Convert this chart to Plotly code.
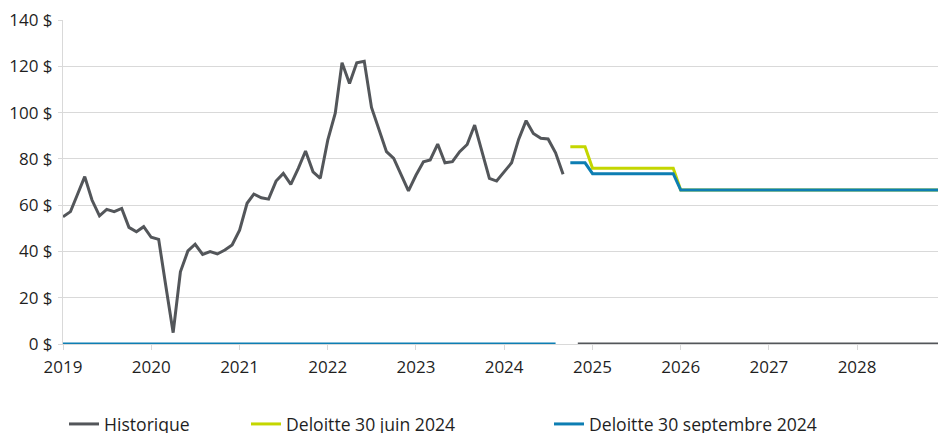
import pandas as pd
import plotly.graph_objects as go

# monthly axis, Jan 2019 -> Dec 2028
months = pd.date_range("2019-01-01", periods=120, freq="MS")

# Historique: Jan 2019 -> Sep 2024, blank Oct 2024, then zeros to Dec 2028
historique = [
    55.0, 57.2, 64.4, 72.3, 62.2, 55.4, 58.2, 57.2, 58.6, 50.4, 48.5, 50.7,
    46.1, 45.2, 25.5, 4.9, 31.2, 40.2, 43.1, 38.7, 39.9, 38.9, 40.6, 42.8,
    49.2, 60.8, 64.8, 63.2, 62.6, 70.4, 73.7, 69.0, 75.9, 83.4, 74.4, 71.6,
    88.1, 99.7, 121.5, 112.6, 121.5, 122.2, 102.2, 92.4, 83.1, 80.2, 73.0, 66.2,
    72.9, 78.7, 79.5, 86.4, 78.3, 78.8, 83.1, 86.2, 94.6, 83.1, 71.6, 70.4,
    74.4, 78.3, 88.4, 96.5, 91.0, 88.9, 88.6, 82.6, 73.4,
    None,
    0, 0, 0,
    0, 0, 0, 0, 0, 0, 0, 0, 0, 0, 0, 0,
    0, 0, 0, 0, 0, 0, 0, 0, 0, 0, 0, 0,
    0, 0, 0, 0, 0, 0, 0, 0, 0, 0, 0, 0,
    0, 0, 0, 0, 0, 0, 0, 0, 0, 0, 0, 0,
    0, 0,
]

# zeros over the history (Jan 2019 -> Aug 2024), blank Sep 2024
zeros_hist = [
    0, 0, 0, 0, 0, 0, 0, 0, 0, 0, 0, 0,
    0, 0, 0, 0, 0, 0, 0, 0, 0, 0, 0, 0,
    0, 0, 0, 0, 0, 0, 0, 0, 0, 0, 0, 0,
    0, 0, 0, 0, 0, 0, 0, 0, 0, 0, 0, 0,
    0, 0, 0, 0, 0, 0, 0, 0, 0, 0, 0, 0,
    0, 0, 0, 0, 0, 0, 0, 0,
    None,
]
blank_hist = [None] * 69

# forecasts Oct 2024 -> Dec 2028
prev_juin = [
    85.2, 85.2, 85.2,
    75.9, 75.9, 75.9, 75.9, 75.9, 75.9, 75.9, 75.9, 75.9, 75.9, 75.9, 75.9,
    66.5, 66.5, 66.5, 66.5, 66.5, 66.5, 66.5, 66.5, 66.5, 66.5, 66.5, 66.5,
    66.5, 66.5, 66.5, 66.5, 66.5, 66.5, 66.5, 66.5, 66.5, 66.5, 66.5, 66.5,
    66.5, 66.5, 66.5, 66.5, 66.5, 66.5, 66.5, 66.5, 66.5, 66.5, 66.5, 66.5,
]
prev_sept = [
    78.3, 78.3, 78.3,
    73.6, 73.6, 73.6, 73.6, 73.6, 73.6, 73.6, 73.6, 73.6, 73.6, 73.6, 73.6,
    66.5, 66.5, 66.5, 66.5, 66.5, 66.5, 66.5, 66.5, 66.5, 66.5, 66.5, 66.5,
    66.5, 66.5, 66.5, 66.5, 66.5, 66.5, 66.5, 66.5, 66.5, 66.5, 66.5, 66.5,
    66.5, 66.5, 66.5, 66.5, 66.5, 66.5, 66.5, 66.5, 66.5, 66.5, 66.5, 66.5,
]

names = ["Historique", "Deloitte 30 juin 2024", "Deloitte 30 septembre 2024"]
colors = ["#53565A", "#C4D600", "#0D7EB3"]

fig = go.Figure()
fig.add_trace(go.Scatter(x=months, y=historique, name=names[0], mode="lines",
                         line=dict(color=colors[0], width=3), legend="legend"))
fig.add_trace(go.Scatter(x=months, y=blank_hist + prev_juin, name=names[1], mode="lines",
                         line=dict(color=colors[1], width=3), legend="legend2"))
fig.add_trace(go.Scatter(x=months, y=zeros_hist + prev_sept, name=names[2], mode="lines",
                         line=dict(color=colors[2], width=3), legend="legend3"))

W, H = 938, 433
leg = dict(xref="container", yref="container", yanchor="middle", y=(H - 424) / H,
           orientation="h", bgcolor="rgba(0,0,0,0)", font=dict(size=17.6, color="#1f1f1f"))

fig.update_layout(
    width=W, height=H,
    font=dict(family="Open Sans", size=17, color="#1f1f1f"),
    paper_bgcolor="white",
    plot_bgcolor="white",
    margin=dict(l=63, r=0, t=20, b=89),
    xaxis=dict(
        type="date",
        range=["2019-01-01", "2028-12-01"],
        tick0="2019-01-01",
        dtick="M12",
        tickformat="%Y",
        showgrid=False,
        showline=True,
        linecolor="#D9D9D9",
        ticks="outside",
        ticklen=5,
        tickcolor="#D9D9D9",
        ticklabelstandoff=3,
        ticklabeloverflow="allow",
        zeroline=False,
    ),
    yaxis=dict(
        range=[0, 140],
        dtick=20,
        ticksuffix=" $",
        showgrid=True,
        gridcolor="#D9D9D9",
        showline=True,
        linecolor="#D9D9D9",
        ticks="outside",
        ticklen=4,
        tickcolor="#D9D9D9",
        ticklabelstandoff=2,
        ticklabeloverflow="allow",
        zeroline=False,
    ),
    showlegend=True,
    legend=dict(leg, x=64 / W),
    legend2=dict(leg, x=246 / W),
    legend3=dict(leg, x=549 / W),
)

# drop the default 8px page margin so the chart fills the window
fig.write_html("out.html", config={"displayModeBar": False}, post_script=(
    "document.body.style.margin='0';"
    "Plotly.relayout('{plot_id}', {width: 938, height: 433});"
))
